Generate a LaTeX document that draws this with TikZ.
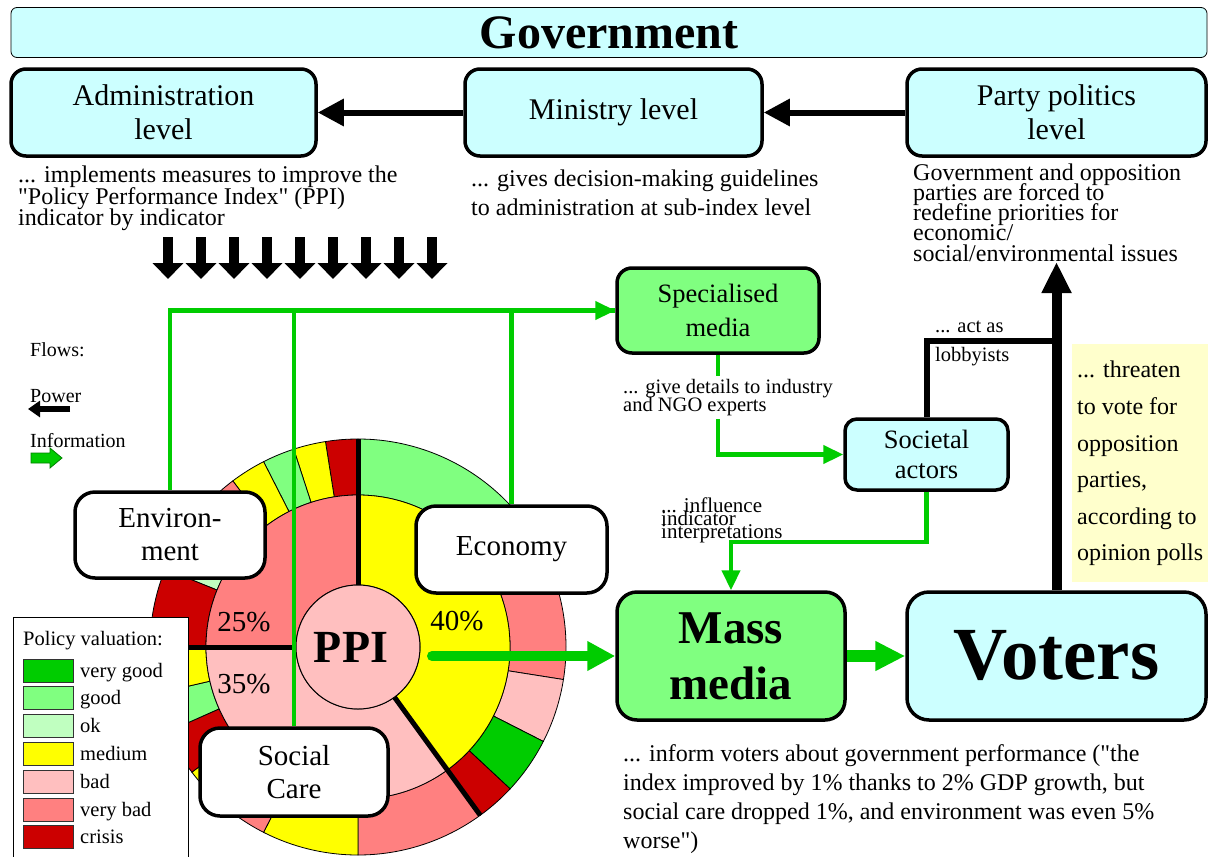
\documentclass[tikz,border=0pt]{standalone}
\usepackage{fontspec}
\setmainfont{Liberation Serif}
\usetikzlibrary{arrows.meta,positioning,calc}

\definecolor{govcyan}{HTML}{CCFFFF}
\definecolor{vgood}{HTML}{00CC00}
\definecolor{good}{HTML}{80FF80}
\definecolor{okay}{HTML}{C0FFC0}
\definecolor{medium}{HTML}{FFFF00}
\definecolor{bad}{HTML}{FFBFBF}
\definecolor{vbad}{HTML}{FF8080}
\definecolor{crisis}{HTML}{CC0000}
\definecolor{notecol}{HTML}{FFFFCC}
\lineskiplimit=-100pt

\begin{document}
\begin{tikzpicture}[x=1pt,y=-1pt,
                    box/.style={draw,line width=3.5pt,rounded corners=15pt,align=center,inner sep=0pt},
                    level node/.style={box,fill=govcyan,minimum height=87pt,font=\fontsize{30}{34}\selectfont},
                    media node/.style={box,fill=good},
                    topic node/.style={box,fill=white,rounded corners=20pt,font=\fontsize{29}{33}\selectfont},
                    note/.style={anchor=north west,align=left,inner sep=0pt},
                    legtext/.style={anchor=base west,inner sep=0pt,font=\fontsize{20.5}{24}\selectfont},
                    info/.style={draw=vgood,line width=4.5pt},
                    info arrow/.style={info,-{Triangle[length=20pt,width=18pt]}},
                    power/.style={line width=6pt,-{Triangle[length=26pt,width=26pt]}},
                    seg/.style={draw=black,line width=0.8pt}]

 \useasboundingbox (0,0) rectangle (1208,857);

 % government level
 \node[draw,fill=govcyan,rounded corners=6pt,line width=0.8pt,minimum width=1196pt,minimum height=50pt,
       font=\bfseries\fontsize{48}{52}\selectfont] (gov) at (609,32.5) {Government};

 \node[level node,minimum width=305pt] (adm) at (163.5,112.5) {Administration\\level};
 \node[level node,minimum width=297pt] (min) at (613.5,112.5) {Ministry level};
 \node[level node,minimum width=299pt] (party) at (1056.5,112.5) {Party politics\\level};

 \draw[power] (min.west) -- (adm.east);
 \draw[power] (party.west) -- (min.east);

 \node[note,font=\fontsize{24}{21.5}\selectfont] (admtxt) at (18,166)
   {... implements measures to improve the\\\textquotedbl Policy Performance Index\textquotedbl{} (PPI)\\indicator by indicator};
 \node[note,font=\fontsize{24}{29}\selectfont] (mintxt) at (471,169.5)
   {... gives decision-making guidelines\\to administration at sub-index level};
 \node[note,font=\fontsize{24}{20.2}\selectfont] (partytxt) at (913,163.5)
   {Government and opposition\\parties are forced to\\redefine priorities for\\economic/\\social/environmental issues};

 \foreach \i in {0,...,8}
   \draw[line width=10pt,-{Triangle[length=16pt,width=30pt]}] ({168+33*\i},237) -- ++(0,42);

 % flows legend
 \node[legtext,font=\fontsize{20}{24}\selectfont] (flows) at (30,356) {Flows:};
 \node[legtext,font=\fontsize{20}{24}\selectfont] (powtxt) at (30,402) {Power};
 \draw[line width=6pt,-{Triangle[length=12pt,width=16pt]}] (70,409) -- (28,409);
 \node[legtext,font=\fontsize{20}{24}\selectfont] (inftxt) at (30,447) {Information};
 \filldraw[fill=vgood,draw=green!50!black,line width=0.8pt]
   (31,453) -- (50,453) -- (50,448) -- (62,458) -- (50,468) -- (50,463) -- (31,463) -- cycle;

 % media and voters
 \node[media node,minimum width=202pt,minimum height=85pt,font=\fontsize{26.5}{34}\selectfont] (spec) at (718,310.5) {Specialised\\media};
 \node[box,fill=govcyan,rounded corners=12pt,minimum width=163pt,minimum height=71pt,
       font=\fontsize{26.5}{30}\selectfont] (socact) at (926.5,454.5) {Societal\\actors};
 \node[media node,rounded corners=20pt,minimum width=228pt,minimum height=128pt,
       font=\bfseries\fontsize{47}{56}\selectfont] (mass) at (731,656) {Mass\\media};
 \node[box,fill=govcyan,rounded corners=22pt,minimum width=299pt,minimum height=128pt,
       font=\bfseries\fontsize{75}{80}\selectfont] (voters) at (1056.5,656) {Voters};

 \fill[notecol] (1072,344) rectangle (1215,582);
 \node[note,font=\fontsize{24}{36.6}\selectfont] (threat) at (1077,361)
   {... threaten\\to vote for\\opposition\\parties,\\according to\\opinion polls};

 % PPI pie
 \begin{scope}[shift={(358,647)}]
  \foreach \a/\b/\c in {20/90/good,-9/20/vbad,-27/-9/bad,-43/-27/vgood,-54/-43/crisis,
                        -90/-54/vbad,-117/-90/medium,-132/-117/vbad,-143/-132/medium,
                        -156/-143/crisis,-167/-156/good,-180/-167/medium,
                        90/99/crisis,99/108/medium,108/117/good,117/127/medium,
                        127/145/vbad,145/158/okay,158/180/crisis}
    \filldraw[seg,fill=\c] (\a:152pt) arc[start angle=\a,end angle=\b,radius=152pt]
      -- (\b:208pt) arc[start angle=\b,end angle=\a,radius=208pt] -- cycle;
  \foreach \a/\b/\c in {-54/90/medium,-180/-54/bad,90/180/vbad}
    \filldraw[seg,fill=\c] (\a:62pt) arc[start angle=\a,end angle=\b,radius=62pt]
      -- (\b:152pt) arc[start angle=\b,end angle=\a,radius=152pt] -- cycle;
  \foreach \a in {90,180,-54}
    \draw[line width=5pt] (\a:62pt) -- (\a:208pt);
 \end{scope}

 \node[circle,draw,fill=bad,line width=1pt,minimum size=124pt,inner sep=0pt,
       font=\bfseries\fontsize{46}{50}\selectfont] (ppi) at (358,647) {PPI\hspace*{14pt}};
 \node[font=\fontsize{29}{33}\selectfont] (envpct) at (244,622) {25\%};
 \node[font=\fontsize{29}{33}\selectfont] (socpct) at (244,684) {35\%};
 \node[font=\fontsize{29}{33}\selectfont] (ecopct) at (457,621) {40\%};

 % policy valuation legend
 \draw[line width=0.8pt,fill=white] (13,617) rectangle (188,880);
 \node[legtext] (legtitle) at (23,645) {Policy valuation:};
 \foreach \c/\t [count=\i from 0] in {vgood/very good,good/good,okay/ok,medium/medium,bad/bad,vbad/very bad,crisis/crisis}
 {
   \filldraw[fill=\c,draw=black!80,line width=0.8pt] (23,{659+27.8*\i}) rectangle (73,{682+27.8*\i});
   \node[legtext] at (80,{677+27.8*\i}) {\t};
 }

 % sub-indices
 \node[topic node,minimum width=190pt,minimum height=86pt] (env) at (170,535) {Environ-\\ment};
 \node[topic node,minimum width=191pt,minimum height=87pt] (eco) at (511.5,549.5) {Economy};
 \node[topic node,minimum width=188pt,minimum height=88pt] (soc) at (294,772) {Social\\Care};

 % information flows
 \draw[info arrow] (env.north) |- (spec.west);
 \draw[info] (soc.north) |- (spec.west);
 \draw[info] (eco.north) |- (spec.west);

 \draw[info arrow] (spec.south) |- (socact.west);
 \node[note,fill=white,inner sep=3pt,font=\fontsize{20.5}{18}\selectfont] (details) at (620,376)
   {... give details to industry\\and NGO experts};

 \draw[info arrow] (socact.south) -- ++(0,50) -| (mass.north);
 \node[note,font=\fontsize{21}{13}\selectfont] (influence) at (661,498)
   {... influence\\indicator\\interpretations};

 \coordinate (ppiout) at (432,656);
 \draw[draw=vgood,line width=10pt,line cap=round,-{Triangle[length=28pt,width=28pt]}] (ppiout) -- (mass.west);
 \draw[draw=vgood,line width=12pt,-{Triangle[length=30pt,width=28pt]}] (mass.east) -- (voters.west);

 % power flows from voters
 \coordinate (up) at (1056.5,262);
 \coordinate (lobby) at (1056.5,341);
 \draw[line width=10pt,-{Triangle[length=31pt,width=28pt]}] (voters.north) -- (up);
 \draw[line width=6pt] (socact.north) |- (lobby);
 \node[note,font=\fontsize{20.5}{29}\selectfont] (lobbytxt) at (935,321) {... act as\\lobbyists};

 \node[note,font=\fontsize{24}{29}\selectfont] (informtxt) at (623,744)
   {... inform voters about government performance (\textquotedbl the\\index improved by 1\% thanks to 2\% GDP growth, but\\social care dropped 1\%, and environment was even 5\%\\worse\textquotedbl)};

\end{tikzpicture}
\end{document}
